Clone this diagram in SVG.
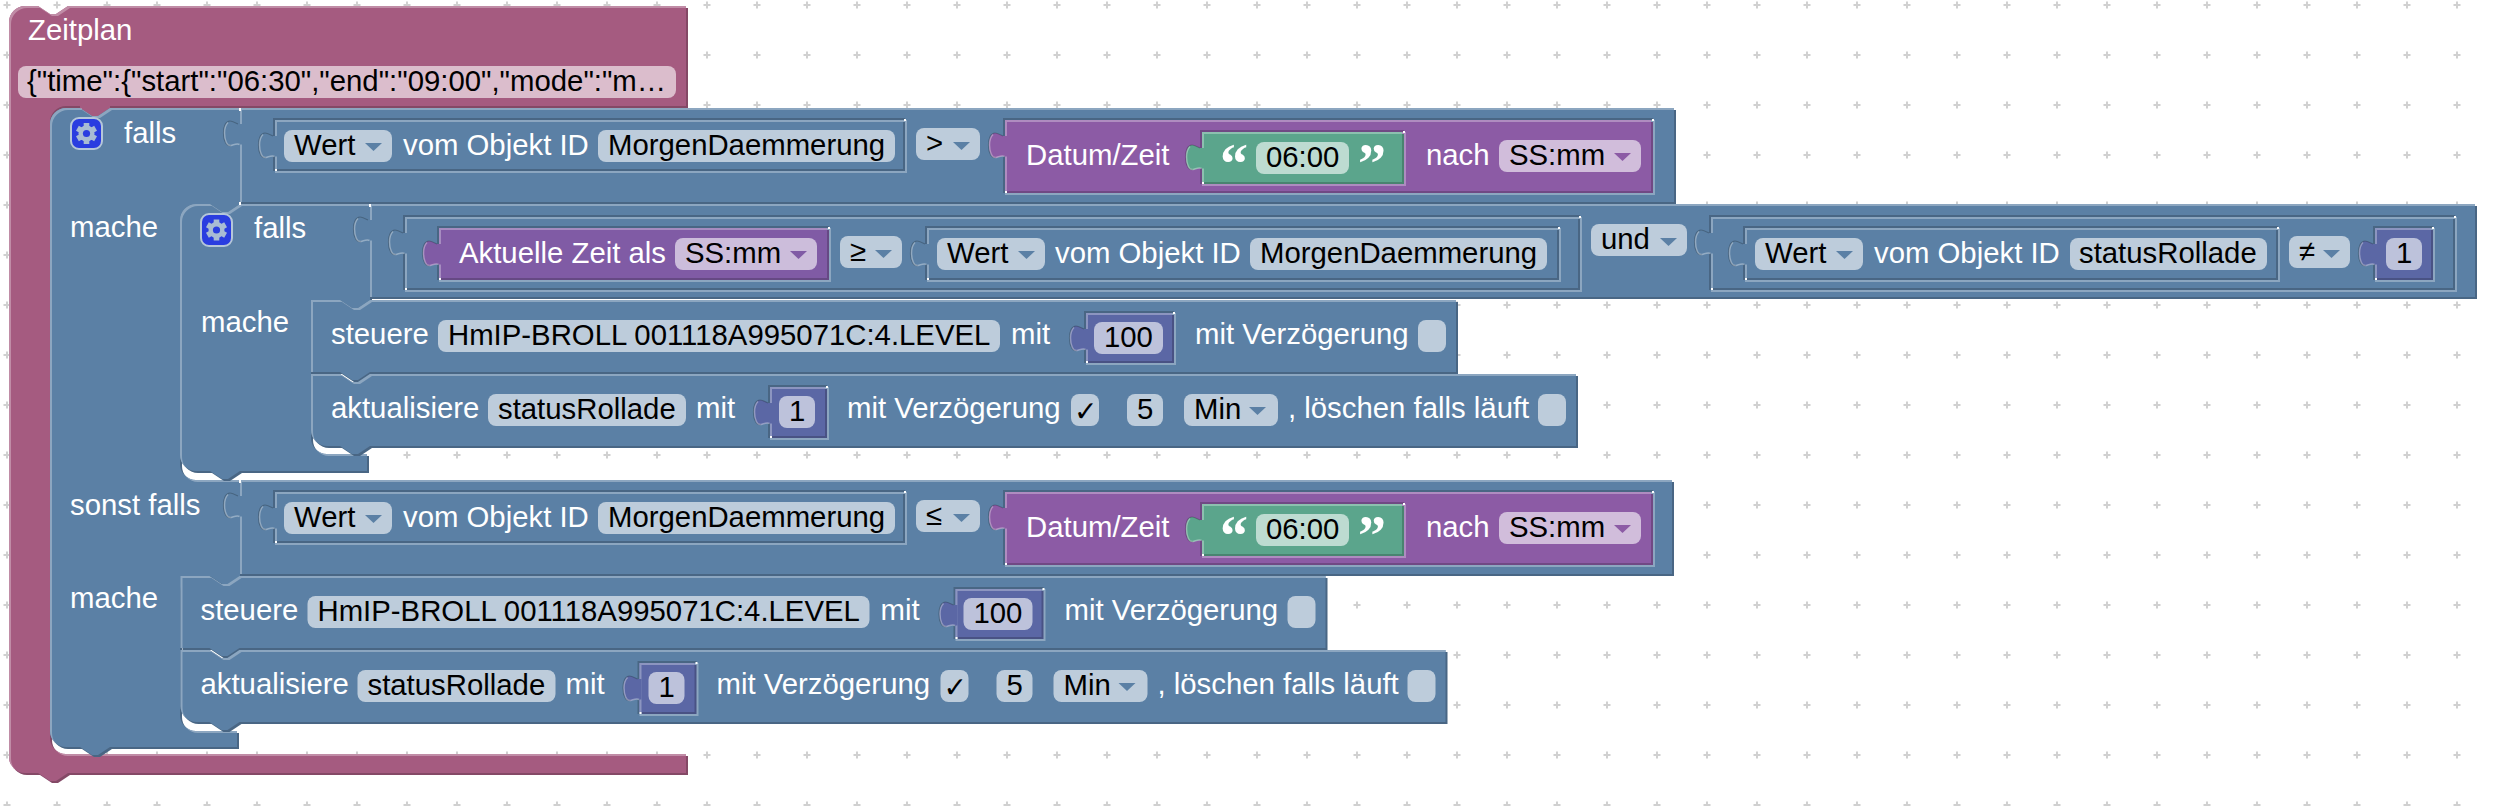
<svg xmlns="http://www.w3.org/2000/svg" width="2498" height="806" viewBox="0 0 2498 806">
<style>
text{font-family:"Liberation Sans",Arial,sans-serif;font-size:29.33px;fill:#fff}
text.k{fill:#000}
text.q{font-family:"Liberation Serif","Times New Roman",serif;font-weight:bold;font-size:56px}
text.c{font-family:"DejaVu Sans",sans-serif;fill:#000;font-size:28px}
.b{filter:url(#bevel)}
.lg{fill:#5b80a5}.pk{fill:#a55b80}.pu{fill:#8c5ba5}.pv{fill:#805ba5}.gr{fill:#5ba58c}.nu{fill:#5b67a5}
.fd{fill:#fff;fill-opacity:.6}
.hdb{fill:#496684}.hlb{fill:#8ca6c0}
.hdp{fill:#704984}.hlp{fill:#ae8cc0}
.w{fill:#fff}
.ico{fill:#2a3de0;stroke:#b5c6d9;stroke-width:2}
.gt{fill:#a9bcd3}.gc{fill:#2a3de0}
.tl{fill:none;stroke:#fff;stroke-opacity:.35;stroke-width:1.5}
.td{fill:none;stroke:#000;stroke-opacity:.22;stroke-width:1.2}
</style>
<defs>
<pattern id="grid" patternUnits="userSpaceOnUse" width="50" height="50">
<path d="M3.5,5H10.5M7,1.5V8.5" stroke="#d0d0d0" stroke-width="2" fill="none"/>
</pattern>
<filter id="bevel" filterUnits="userSpaceOnUse" x="-10" y="-10" width="2700" height="900" color-interpolation-filters="sRGB">
<feOffset in="SourceGraphic" dx="2" dy="2" result="off"/>
<feColorMatrix in="off" type="matrix" values=".8 0 0 0 0 0 .8 0 0 0 0 0 .8 0 0 0 0 0 1 0" result="dark"/>
<feComposite in="SourceGraphic" in2="off" operator="out" result="edge"/>
<feColorMatrix in="edge" type="matrix" values=".7 0 0 0 .3 0 .7 0 0 .3 0 0 .7 0 .3 0 0 0 1 0" result="light"/>
<feMerge><feMergeNode in="dark"/><feMergeNode in="SourceGraphic"/><feMergeNode in="light"/></feMerge>
</filter>
<g id="tab">
<path d="M2,16H-2C-5,14.5 -8,13 -10,13C-14,13 -16,18 -16,25C-16,33 -13,39 -9,38C-6,37.3 -3,35.5 -.5,36.5H2Z"/>
<path class="td" d="M-2,16C-5,14.5 -8,13 -10,13C-14,13 -16.5,18 -16.5,25C-16.5,33 -13.5,38.5 -9,37.5"/>
<path class="tl" d="M-12,14.5C-14.5,17 -15.5,21 -15.5,25C-15.5,32 -13,38.5 -9,37.5C-6,36.8 -3,35 -.5,36.5"/>
</g>
<g id="gear">
<rect class="gt" x="-2.8" y="-10.5" width="5.6" height="21"/>
<rect class="gt" x="-2.8" y="-10.5" width="5.6" height="21" transform="rotate(60)"/>
<rect class="gt" x="-2.8" y="-10.5" width="5.6" height="21" transform="rotate(120)"/>
<circle class="gt" r="8"/>
<circle class="gc" r="3.6"/>
</g>
<g id="steuere">
<path class="b lg" d="M311,300H340l12,8h6l12,-8H1456V372H370l-12,8h-6l-12,-8H311Z"/>
<text x="331" y="344">steuere</text>
<rect class="fd" x="438" y="320" width="562" height="32" rx="8"/>
<text class="k" x="448" y="345">HmIP-BROLL 001118A995071C:4.LEVEL</text>
<text x="1011" y="344">mit</text>
<rect class="hdb" x="1084" y="311" width="90" height="52"/><rect class="hlb" x="1086" y="313" width="90" height="52"/>
<rect class="b nu" x="1086" y="313" width="86" height="48"/>
<use href="#tab" class="nu" transform="translate(1086 313)"/>
<path class="w" d="M1086,361h2v2h-2zM1173,312h2v2h-2z"/>
<rect class="fd" x="1094" y="322" width="69" height="32" rx="8"/>
<text class="k" x="1104" y="347">100</text>
<text x="1195" y="344">mit Verzögerung</text>
<rect class="fd" x="1418" y="320" width="28" height="32" rx="8"/>
</g>
<g id="aktual">
<path class="b lg" d="M311,374H340l12,8h6l12,-8H1576V446H370l-12,8h-6l-12,-8H327a16,16 0 0 1 -16,-16Z"/>
<text x="331" y="418">aktualisiere</text>
<rect class="fd" x="488" y="394" width="198" height="32" rx="8"/>
<text class="k" x="498" y="419">statusRollade</text>
<text x="696" y="418">mit</text>
<rect class="hdb" x="768" y="385" width="59" height="53"/><rect class="hlb" x="770" y="387" width="59" height="53"/>
<rect class="b nu" x="770" y="387" width="55" height="49"/>
<use href="#tab" class="nu" transform="translate(770 387)"/>
<path class="w" d="M770,436h2v2h-2zM826,386h2v2h-2z"/>
<rect class="fd" x="779" y="396" width="36" height="32" rx="8"/>
<text class="k" x="789" y="421">1</text>
<text x="847" y="418">mit Verzögerung</text>
<rect class="fd" x="1071" y="394" width="28" height="32" rx="8"/>
<text class="c" x="1074" y="421">✓</text>
<rect class="fd" x="1127" y="394" width="36" height="32" rx="8"/>
<text class="k" x="1137" y="419">5</text>
<rect class="fd" x="1184" y="394" width="94" height="32" rx="8"/>
<text class="k" x="1194" y="419">Min</text>
<path class="lg" d="M1249,407h17l-8.5,8z"/>
<text x="1288" y="418">, löschen falls läuft</text>
<rect class="fd" x="1538" y="394" width="28" height="32" rx="8"/>
</g>
<g id="cmpL">
<rect class="hdb" x="273" y="118" width="632" height="53"/><rect class="hlb" x="275" y="120" width="632" height="53"/>
<rect class="b lg" x="275" y="120" width="628" height="49"/>
<use href="#tab" class="lg" transform="translate(275 120)"/>
<path class="w" d="M275,169h2v2h-2zM904,119h2v2h-2z"/>
<rect class="fd" x="284" y="130" width="108" height="32" rx="8"/>
<text class="k" x="294" y="155">Wert</text>
<path class="lg" d="M365,143h17l-8.5,8z"/>
<text x="403" y="155">vom Objekt ID</text>
<rect class="fd" x="598" y="130" width="297" height="32" rx="8"/>
<text class="k" x="608" y="155">MorgenDaemmerung</text>
<rect class="hdb" x="1003" y="118" width="650" height="75"/><rect class="hlb" x="1005" y="120" width="650" height="75"/>
<rect class="b pu" x="1005" y="120" width="646" height="71"/>
<use href="#tab" class="pu" transform="translate(1005 120)"/>
<path class="w" d="M1005,191h2v2h-2zM1652,119h2v2h-2z"/>
<text x="1026" y="165">Datum/Zeit</text>
<rect class="hdp" x="1200" y="130" width="204" height="54"/><rect class="hlp" x="1202" y="132" width="204" height="54"/>
<rect class="b gr" x="1202" y="132" width="200" height="50"/>
<use href="#tab" class="gr" transform="translate(1202 132)"/>
<path class="w" d="M1202,182h2v2h-2zM1403,131h2v2h-2z"/>
<text class="q" x="1220" y="183">“</text>
<rect class="fd" x="1256" y="142" width="93" height="32" rx="8"/>
<text class="k" x="1266" y="167">06:00</text>
<text class="q" x="1358" y="183">”</text>
<text x="1426" y="165">nach</text>
<rect class="fd" x="1499" y="140" width="142" height="32" rx="8"/>
<text class="k" x="1509" y="165">SS:mm</text>
<path class="pu" d="M1614,153h17l-8.5,8z"/>
</g>
</defs>
<rect width="2498" height="806" fill="#fff"/>
<rect width="2498" height="806" fill="url(#grid)"/>

<g id="zeitplan">
<path class="b pk" d="M9,22a16,16 0 0 1 16,-16H38l12,8h6l12,-8H686V106H110V108l-12,8h-6l-12,-8V106H66a16,16 0 0 0 -16,16V738a16,16 0 0 0 16,16H686V773H68l-12,8h-6l-12,-8H25a16,16 0 0 1 -16,-16Z"/>
<text x="28" y="40">Zeitplan</text>
<rect class="fd" x="18" y="66" width="658" height="32" rx="8"/>
<text class="k" x="27" y="91">{"time":{"start":"06:30","end":"09:00","mode":"m…</text>
</g>

<g id="falls-outer">
<path class="b lg" d="M50,124a16,16 0 0 1 16,-16H80l12,8h6l12,-8H240V204l-12,8h-6l-12,-8H196a16,16 0 0 0 -16,16V464a16,16 0 0 0 16,16H240V576l-12,8h-6l-12,-8H196a16,16 0 0 0 -16,16V715a16,16 0 0 0 16,16H237V747H110l-12,8h-6l-12,-8H66a16,16 0 0 1 -16,-16Z"/>
<rect class="ico" x="71" y="118" width="31" height="31" rx="8"/>
<use href="#gear" x="86.5" y="133.5"/>
<text x="124" y="143">falls</text>
<text x="70" y="237">mache</text>
<text x="70" y="515">sonst falls</text>
<text x="70" y="608">mache</text>
</g>

<g id="compare-1">
<rect class="b lg" x="240" y="108" width="1434" height="94"/>
<use href="#tab" class="lg" transform="translate(240 108)"/>
<use href="#cmpL"/>
<rect class="fd" x="916" y="128" width="64" height="32" rx="8"/>
<text class="k" x="926" y="153">&gt;</text>
<path class="lg" d="M953,142h17l-8.5,8z"/>
<path class="w" d="M239,108h2v3h-2z"/>
</g>

<g id="compare-2">
<rect class="b lg" x="240" y="480" width="1432" height="94"/>
<use href="#tab" class="lg" transform="translate(240 480)"/>
<use href="#cmpL" transform="translate(0 372)"/>
<rect class="fd" x="916" y="500" width="64" height="32" rx="8"/>
<text class="k" x="926" y="525">≤</text>
<path class="lg" d="M953,514h17l-8.5,8z"/>
<path class="w" d="M239,480h2v3h-2z"/>
</g>

<g id="falls-inner">
<path class="b lg" d="M180,220a16,16 0 0 1 16,-16H210l12,8h6l12,-8H370V300l-12,8h-6l-12,-8H327a16,16 0 0 0 -16,16V438a16,16 0 0 0 16,16H367V471H240l-12,8h-6l-12,-8H196a16,16 0 0 1 -16,-16Z"/>
<rect class="ico" x="201" y="214" width="31" height="32" rx="8"/>
<use href="#gear" x="216.5" y="230"/>
<text x="254" y="238">falls</text>
<text x="201" y="332">mache</text>
</g>

<g id="und-block">
<rect class="b lg" x="370" y="204" width="2105" height="93"/>
<use href="#tab" class="lg" transform="translate(370 204)"/>
<path class="w" d="M369,204h2v3h-2zM239,202h2v3h-2z"/>
<rect class="hdb" x="403" y="215" width="1177" height="75"/><rect class="hlb" x="405" y="217" width="1177" height="75"/>
<rect class="b lg" x="405" y="217" width="1173" height="71"/>
<use href="#tab" class="lg" transform="translate(405 217)"/>
<path class="w" d="M405,288h2v2h-2zM1579,216h2v2h-2z"/>
<rect class="hdb" x="437" y="226" width="392" height="54"/><rect class="hlb" x="439" y="228" width="392" height="54"/>
<rect class="b pv" x="439" y="228" width="388" height="50"/>
<use href="#tab" class="pv" transform="translate(439 228)"/>
<path class="w" d="M439,278h2v2h-2zM828,227h2v2h-2z"/>
<text x="459" y="263">Aktuelle Zeit als</text>
<rect class="fd" x="675" y="238" width="142" height="32" rx="8"/>
<text class="k" x="685" y="263">SS:mm</text>
<path class="pv" d="M790,251h17l-8.5,8z"/>
<rect class="fd" x="840" y="236" width="62" height="32" rx="8"/>
<text class="k" x="850" y="261">≥</text>
<path class="lg" d="M875,250h17l-8.5,8z"/>
<rect class="hdb" x="925" y="226" width="634" height="54"/><rect class="hlb" x="927" y="228" width="634" height="54"/>
<rect class="b lg" x="927" y="228" width="630" height="50"/>
<use href="#tab" class="lg" transform="translate(927 228)"/>
<path class="w" d="M927,278h2v2h-2zM1558,227h2v2h-2z"/>
<rect class="fd" x="937" y="238" width="108" height="32" rx="8"/>
<text class="k" x="947" y="263">Wert</text>
<path class="lg" d="M1018,251h17l-8.5,8z"/>
<text x="1055" y="263">vom Objekt ID</text>
<rect class="fd" x="1250" y="238" width="297" height="32" rx="8"/>
<text class="k" x="1260" y="263">MorgenDaemmerung</text>
<rect class="fd" x="1591" y="224" width="96" height="32" rx="8"/>
<text class="k" x="1601" y="249">und</text>
<path class="lg" d="M1660,238h17l-8.5,8z"/>
<rect class="hdb" x="1709" y="215" width="746" height="75"/><rect class="hlb" x="1711" y="217" width="746" height="75"/>
<rect class="b lg" x="1711" y="217" width="742" height="71"/>
<use href="#tab" class="lg" transform="translate(1711 217)"/>
<path class="w" d="M1711,288h2v2h-2zM2454,216h2v2h-2z"/>
<rect class="hdb" x="1743" y="226" width="535" height="54"/><rect class="hlb" x="1745" y="228" width="535" height="54"/>
<rect class="b lg" x="1745" y="228" width="531" height="50"/>
<use href="#tab" class="lg" transform="translate(1745 228)"/>
<path class="w" d="M1745,278h2v2h-2zM2277,227h2v2h-2z"/>
<rect class="fd" x="1755" y="238" width="108" height="32" rx="8"/>
<text class="k" x="1765" y="263">Wert</text>
<path class="lg" d="M1836,251h17l-8.5,8z"/>
<text x="1874" y="263">vom Objekt ID</text>
<rect class="fd" x="2070" y="238" width="197" height="32" rx="8"/>
<text class="k" x="2079" y="263">statusRollade</text>
<rect class="fd" x="2289" y="236" width="61" height="32" rx="8"/>
<text class="k" x="2299" y="261">≠</text>
<path class="lg" d="M2323,250h17l-8.5,8z"/>
<rect class="hdb" x="2373" y="226" width="60" height="54"/><rect class="hlb" x="2375" y="228" width="60" height="54"/>
<rect class="b nu" x="2375" y="228" width="56" height="50"/>
<use href="#tab" class="nu" transform="translate(2375 228)"/>
<path class="w" d="M2375,278h2v2h-2zM2432,227h2v2h-2z"/>
<rect class="fd" x="2386" y="238" width="36" height="32" rx="8"/>
<text class="k" x="2396" y="263">1</text>
</g>

<g id="steuere-1"><use href="#steuere"/></g>
<g id="aktualisiere-1"><use href="#aktual"/></g>
<g id="steuere-2" transform="translate(-130.5 276)"><use href="#steuere"/></g>
<g id="aktualisiere-2" transform="translate(-130.5 276)"><use href="#aktual"/></g>
</svg>
